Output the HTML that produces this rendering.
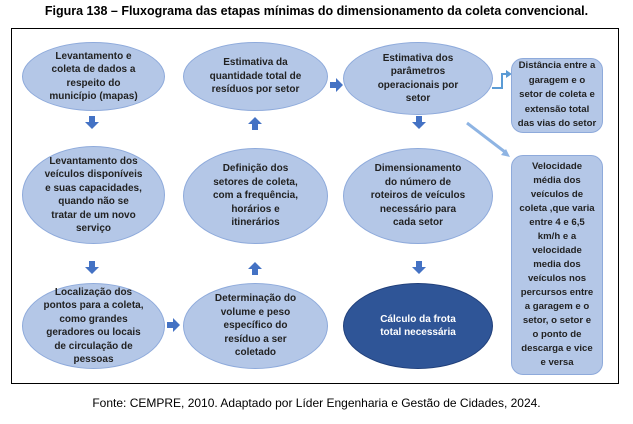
<!DOCTYPE html>
<html><head><meta charset="utf-8"><style>
body{margin:0;width:633px;height:424px;background:#fff;font-family:"Liberation Sans",sans-serif;position:relative;overflow:hidden}
.t{position:absolute;left:0;width:633px;text-align:center}
.e{position:absolute;border-radius:50%;background:#b4c7e7;border:1.5px solid #8eaadb;box-sizing:border-box;display:flex;align-items:center;justify-content:center;text-align:center;font-size:10px;font-weight:bold;color:#222;line-height:13.5px}
.b{position:absolute;border-radius:12px;background:#b4c7e7;border:1.5px solid #8eaadb;box-sizing:border-box;display:flex;align-items:center;justify-content:center;text-align:center;font-size:9.6px;font-weight:bold;color:#222;line-height:14.5px}
</style></head><body>
<div class="t" style="top:4px;font-size:12.5px;font-weight:bold">Figura 138 – Fluxograma das etapas mínimas do dimensionamento da coleta convencional.</div>
<div style="position:absolute;left:11px;top:28px;width:606px;height:354px;border:1.5px solid #000"></div>
<svg style="position:absolute;left:0;top:0" width="633" height="424">
<g fill="#4472c4">
<path d="M89,116h6v6h4l-7,7l-7,-7h4z"/>
<path d="M89,261h6v6h4l-7,7l-7,-7h4z"/>
<path d="M252,275h6v-6h4l-7,-7l-7,7h4z"/>
<path d="M252,130h6v-6h4l-7,-7l-7,7h4z"/>
<path d="M416,116h6v6h4l-7,7l-7,-7h4z"/>
<path d="M416,261h6v6h4l-7,7l-7,-7h4z"/>
<path d="M330,82v6h6v4l7,-7l-7,-7v4z"/>
<path d="M167,322v6h6v4l7,-7l-7,-7v4z"/>
</g>
<path d="M492,88h10v-14h6" stroke="#5b9bd5" stroke-width="2" fill="none"/>
<path d="M506,70l6,4l-6,4z" fill="#5b9bd5"/>
<path d="M467,123L505,152" stroke="#8eb4e3" stroke-width="3" fill="none"/>
<path d="M501,155l9,2l-4,-8z" fill="#8eb4e3"/>
</svg>
<div class="e" style="left:22px;top:42px;width:143px;height:69px">Levantamento e<br>coleta de dados a<br>respeito do<br>município (mapas)</div>
<div class="e" style="left:183px;top:42px;width:145px;height:69px">Estimativa da<br>quantidade total de<br>resíduos por setor</div>
<div class="e" style="left:343px;top:42px;width:150px;height:73px">Estimativa dos<br>parâmetros<br>operacionais por<br>setor</div>
<div class="e" style="left:22px;top:146px;width:143px;height:98px">Levantamento dos<br>veículos disponíveis<br>e suas capacidades,<br>quando não se<br>tratar de um novo<br>serviço</div>
<div class="e" style="left:183px;top:148px;width:145px;height:96px">Definição dos<br>setores de coleta,<br>com a frequência,<br>horários e<br>itinerários</div>
<div class="e" style="left:343px;top:148px;width:150px;height:96px">Dimensionamento<br>do número de<br>roteiros de veículos<br>necessário para<br>cada setor</div>
<div class="e" style="left:22px;top:283px;width:143px;height:86px">Localização dos<br>pontos para a coleta,<br>como grandes<br>geradores ou locais<br>de circulação de<br>pessoas</div>
<div class="e" style="left:183px;top:283px;width:145px;height:86px">Determinação do<br>volume e peso<br>específico do<br>resíduo a ser<br>coletado</div>
<div class="e" style="left:343px;top:283px;width:150px;height:86px;background:#2f5597;border-color:#203f7a;color:#fff">Cálculo da frota<br>total necessária</div>
<div class="b" style="left:511px;top:58px;width:92px;height:75px">Distância entre a<br>garagem e o<br>setor de coleta e<br>extensão total<br>das vias do setor</div>
<div class="b" style="left:511px;top:155px;width:92px;height:220px;line-height:14px">Velocidade<br>média dos<br>veículos de<br>coleta ,que varia<br>entre 4 e 6,5<br>km/h e a<br>velocidade<br>media dos<br>veículos nos<br>percursos entre<br>a garagem e o<br>setor, o setor e<br>o ponto de<br>descarga e vice<br>e versa</div>
<div class="t" style="top:396px;font-size:12px">Fonte: CEMPRE, 2010. Adaptado por Líder Engenharia e Gestão de Cidades, 2024.</div>
</body></html>
